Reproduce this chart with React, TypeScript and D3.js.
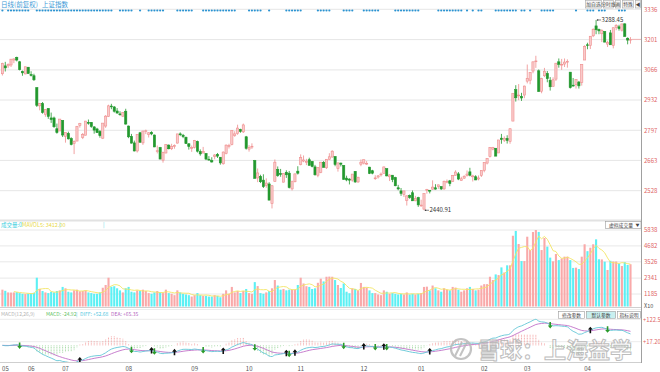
import React from 'react';
import * as d3 from 'd3';

// 上证指数 日线 2018-05-31 .. 2019-04-24, [open, high, low, close]
const candles: [number, number, number, number][] = [
  // 05/06
  [3049, 3098, 3041, 3095], [3084, 3102, 3059, 3075], [3084, 3095, 3074, 3091], [3088, 3114, 3079, 3114],
  [3110, 3117, 3096, 3115], [3122, 3125, 3104, 3110], [3102, 3106, 3064, 3067], [3059, 3063, 3040, 3053],
  [3048, 3080, 3047, 3080], [3078, 3079, 3049, 3050], [3045, 3060, 3037, 3044], [3040, 3049, 3017, 3022],
  [2987, 2988, 2901, 2908], [2906, 2919, 2886, 2916], [2916, 2923, 2871, 2876], [2868, 2892, 2857, 2890],
  [2894, 2895, 2848, 2859], [2852, 2876, 2830, 2845], [2852, 2858, 2808, 2813], [2804, 2827, 2782, 2787],
  [2794, 2847, 2794, 2847],
  // 07
  [2841, 2841, 2767, 2776], [2770, 2786, 2742, 2787], [2783, 2791, 2756, 2759], [2760, 2766, 2730, 2734],
  [2738, 2752, 2691, 2747], [2749, 2815, 2749, 2815], [2819, 2830, 2809, 2828], [2765, 2785, 2758, 2778],
  [2775, 2839, 2775, 2838], [2832, 2845, 2822, 2831], [2832, 2834, 2808, 2814], [2812, 2816, 2782, 2798],
  [2803, 2808, 2785, 2787], [2792, 2798, 2764, 2773], [2762, 2829, 2758, 2829], [2816, 2865, 2808, 2860],
  [2858, 2911, 2856, 2906], [2905, 2915, 2891, 2904], [2901, 2905, 2876, 2882], [2883, 2896, 2871, 2874],
  [2870, 2882, 2862, 2869], [2860, 2877, 2856, 2876],
  // 08
  [2882, 2893, 2822, 2825], [2816, 2818, 2762, 2768], [2770, 2781, 2738, 2740], [2741, 2751, 2703, 2705],
  [2705, 2779, 2698, 2779], [2786, 2790, 2741, 2744], [2741, 2794, 2732, 2794], [2794, 2800, 2780, 2795],
  [2778, 2788, 2765, 2786], [2788, 2793, 2775, 2781], [2776, 2778, 2722, 2723], [2703, 2729, 2694, 2706],
  [2720, 2723, 2668, 2669], [2664, 2702, 2653, 2698], [2696, 2734, 2694, 2734], [2731, 2734, 2712, 2715],
  [2715, 2737, 2709, 2725], [2724, 2734, 2715, 2729], [2740, 2781, 2738, 2781], [2781, 2788, 2771, 2778],
  [2775, 2781, 2762, 2769], [2766, 2769, 2736, 2738], [2737, 2739, 2711, 2725],
  // 09
  [2716, 2729, 2701, 2721], [2720, 2754, 2716, 2751], [2747, 2751, 2698, 2704], [2702, 2712, 2684, 2692],
  [2696, 2723, 2694, 2702], [2694, 2694, 2664, 2669], [2668, 2682, 2662, 2665], [2662, 2677, 2653, 2656],
  [2680, 2691, 2668, 2687], [2690, 2696, 2674, 2682], [2677, 2678, 2644, 2652], [2648, 2703, 2644, 2700],
  [2694, 2734, 2690, 2731], [2725, 2737, 2716, 2729], [2733, 2798, 2730, 2797], [2773, 2793, 2768, 2781],
  [2782, 2822, 2777, 2807], [2800, 2804, 2786, 2792], [2790, 2827, 2785, 2821],
  // 10
  [2768, 2772, 2711, 2717], [2713, 2731, 2702, 2721], [2724, 2739, 2714, 2726], [2662, 2665, 2583, 2583],
  [2585, 2627, 2566, 2607], [2592, 2599, 2562, 2568], [2575, 2601, 2540, 2546], [2552, 2583, 2541, 2562],
  [2558, 2566, 2486, 2486], [2471, 2553, 2449, 2550], [2569, 2667, 2569, 2655], [2623, 2636, 2590, 2595],
  [2604, 2625, 2590, 2603], [2566, 2605, 2565, 2604], [2610, 2619, 2585, 2599], [2606, 2616, 2538, 2542],
  [2536, 2573, 2529, 2568], [2568, 2604, 2565, 2603],
  // 11
  [2615, 2637, 2600, 2606], [2644, 2690, 2641, 2676], [2660, 2685, 2655, 2665], [2654, 2670, 2642, 2659],
  [2666, 2675, 2641, 2641], [2658, 2660, 2632, 2636], [2634, 2643, 2595, 2599], [2597, 2633, 2588, 2631],
  [2610, 2655, 2606, 2655], [2654, 2660, 2632, 2632], [2630, 2669, 2625, 2668], [2668, 2695, 2666, 2679],
  [2678, 2708, 2675, 2704], [2680, 2682, 2637, 2645], [2626, 2652, 2613, 2652], [2651, 2653, 2636, 2646],
  [2640, 2642, 2576, 2579], [2584, 2595, 2570, 2576], [2580, 2583, 2556, 2575], [2575, 2602, 2568, 2602],
  [2614, 2615, 2563, 2567], [2567, 2590, 2563, 2588],
  // 12
  [2646, 2667, 2637, 2655], [2651, 2666, 2645, 2666], [2647, 2660, 2643, 2650], [2633, 2634, 2602, 2605],
  [2617, 2621, 2601, 2606], [2583, 2597, 2576, 2585], [2589, 2598, 2582, 2594], [2600, 2609, 2591, 2602],
  [2605, 2635, 2605, 2634], [2626, 2627, 2592, 2594], [2590, 2601, 2571, 2598], [2597, 2597, 2566, 2577],
  [2586, 2590, 2548, 2550], [2541, 2554, 2530, 2536], [2527, 2540, 2505, 2516], [2512, 2527, 2500, 2527],
  [2485, 2507, 2462, 2505], [2506, 2511, 2492, 2498], [2519, 2529, 2482, 2483], [2483, 2505, 2481, 2494],
  // 01
  [2497, 2501, 2456, 2465], [2461, 2488, 2456, 2464], [2446, 2515, 2440.91, 2515], [2529, 2536, 2515, 2533],
  [2530, 2531, 2516, 2526], [2535, 2574, 2532, 2544], [2541, 2557, 2533, 2535], [2546, 2555, 2536, 2554],
  [2546, 2548, 2531, 2536], [2536, 2573, 2532, 2570], [2566, 2578, 2561, 2570], [2572, 2576, 2548, 2560],
  [2569, 2598, 2567, 2596], [2596, 2619, 2596, 2611], [2603, 2611, 2575, 2580], [2574, 2590, 2573, 2581],
  [2584, 2597, 2580, 2592], [2595, 2618, 2591, 2602], [2612, 2630, 2592, 2597], [2590, 2599, 2569, 2594],
  [2590, 2597, 2575, 2576], [2580, 2596, 2574, 2585],
  // 02
  [2596, 2619, 2589, 2618], [2619, 2654, 2610, 2654], [2651, 2673, 2645, 2672], [2680, 2722, 2676, 2721],
  [2713, 2723, 2708, 2720], [2717, 2718, 2682, 2682], [2696, 2754, 2696, 2754], [2762, 2781, 2737, 2756],
  [2753, 2770, 2745, 2761], [2761, 2775, 2738, 2752], [2747, 2805, 2737, 2804], [2838, 2961, 2838, 2961],
  [2978, 2998, 2925, 2942], [2951, 3003, 2931, 2954], [2948, 2964, 2928, 2941],
  // 03
  [2954, 2996, 2940, 2994], [3016, 3090, 3006, 3028], [3020, 3055, 3002, 3054], [3061, 3103, 3051, 3102],
  [3104, 3129, 3075, 3106], [3062, 3068, 2969, 2970], [2971, 3031, 2962, 3027], [3040, 3075, 3034, 3060],
  [3050, 3061, 3011, 3027], [3020, 3034, 2974, 2991], [2993, 3033, 2993, 3022], [3025, 3096, 3017, 3096],
  [3102, 3117, 3076, 3091], [3088, 3115, 3066, 3091], [3092, 3117, 3079, 3101], [3101, 3113, 3076, 3104],
  [3056, 3056, 2983, 2987], [2998, 3030, 2991, 2997], [3000, 3023, 2983, 3023], [3012, 3017, 2983, 2995],
  [3010, 3091, 2996, 3091],
  // 04
  [3110, 3176, 3110, 3170], [3178, 3187, 3158, 3177], [3174, 3217, 3159, 3216], [3218, 3251, 3212, 3247],
  [3262, 3288.45, 3225, 3245], [3246, 3250, 3225, 3240], [3227, 3247, 3190, 3242], [3237, 3238, 3189, 3190],
  [3181, 3196, 3168, 3189], [3231, 3244, 3178, 3178], [3174, 3254, 3162, 3254], [3255, 3270, 3243, 3263],
  [3258, 3267, 3241, 3250], [3243, 3271, 3237, 3271], [3271, 3274, 3215, 3215], [3207, 3211, 3180, 3199],
  [3199, 3212, 3183, 3202],
];

// 成交量 (X10)
const volumes = [
  1500, 1420, 1300, 1290, 1300, 1320, 1250, 1200, 1180, 1210, 1230, 1280, 2370, 1560, 1400, 1300, 1250, 1350, 1300, 1400, 1450,
  1700, 1600, 1350, 1300, 1450, 1500, 1380, 1400, 1450, 1300, 1250, 1200, 1200, 1300, 1640, 1840, 2370, 1715, 1750, 1600, 1450, 1300,
  1600, 1700, 1350, 1300, 1450, 1400, 1500, 1400, 1250, 1200, 1300, 1400, 1300, 1250, 1500, 1250, 1200, 1100, 1450, 1300, 1200, 1150, 1100,
  1000, 1100, 1250, 1100, 1050, 1050, 1000, 1000, 1100, 1050, 950, 1200, 1450, 1200, 1700, 1300, 1400, 1250, 1400,
  1550, 1250, 1200, 2050, 1760, 1250, 1200, 1300, 1400, 1600, 2200, 1800, 1500, 1550, 1450, 1500, 1500, 1500,
  1840, 2370, 1950, 1750, 1700, 1550, 1600, 2000, 2300, 2100, 2440, 2450, 2440, 2200, 1840, 1620, 1950, 1350, 1240, 1600, 1550, 1450,
  1990, 1700, 1650, 1450, 1250, 1250, 1150, 1100, 1450, 1350, 1200, 1250, 1200, 1150, 1200, 1150, 1300, 1150, 1200, 1150,
  1200, 1250, 1700, 1720, 1450, 1800, 1600, 1450, 1350, 1600, 1500, 1450, 1700, 1650, 1500, 1350, 1450, 1600, 1700, 1550, 1450, 1500,
  1800, 1900, 1900, 2440, 2200, 2610, 2560, 3120, 2750, 3270, 3270, 5420, 5770, 4820, 3580,
  3580, 5350, 4380, 5690, 5838, 5700, 4380, 5260, 4630, 3830, 3560, 4090, 3650, 3770, 3900, 3900, 3650, 3080, 3100, 3000, 3900,
  4800, 4300, 4550, 4800, 5160, 3710, 3700, 3535, 2930, 3600, 3550, 3550, 3400, 3220, 3500, 3300, 3350,
];

const monthTicks: [string, number][] = [
  ['05', 0], ['06', 9], ['07', 21], ['08', 43], ['09', 66], ['10', 85],
  ['11', 103], ['12', 125], ['01', 145], ['02', 167], ['03', 182], ['04', 203],
];
const priceTicks = [3336, 3201, 3066, 2932, 2797, 2663, 2528];
const volTicks = [5838, 4682, 3526, 2341, 1185];
const macdTicks = [122.5, 17.2];
const macdTickLabels = ['+122.5', '+17.20'];

// 事件提示点
const eventIdx = [
  0, 2, 3, 4, 5, 6, 7, 8, 9, 12, 13, 14, 15, 16, 17, 18, 19, 20, 21, 22, 23, 24, 25, 26, 27, 28, 29, 30, 31,
  32, 33, 34, 35, 36, 37, 38, 41, 42, 43, 44, 45, 48, 51, 52, 53, 54, 55, 56, 61, 62, 63, 64, 65, 66,
  70, 71, 72, 73, 74, 75, 76, 77, 78, 79, 80, 81, 86, 87, 88, 89, 90, 93, 99, 100, 101, 102, 103, 104,
  110, 111, 112, 113, 114, 119, 120, 121, 122, 126, 127, 128, 129, 130, 131, 137, 138, 139, 140, 141, 142,
  143, 144, 145, 152, 153, 154, 155, 156, 157, 158, 159, 160, 162, 164, 166, 167, 172, 173, 174, 175, 176,
  177, 178, 179, 181, 182, 184, 188, 189, 190, 191, 192, 200, 204, 205, 206, 208, 209, 210, 215, 216, 217,
];

const legendMacd = { name: 'MACD(12,26,9)', macd: 'MACD: -24.92', diff: 'DIFF: +52.68', dea: 'DEA: +65.35' };

const FONT = "'Noto Sans CJK SC', 'DejaVu Sans', sans-serif";
const AXIS_X = 641.5;
const UP = '#ef8d8d';
const UP_FILL = '#f9caca';
const DOWN = '#22982e';

function ema(values: number[], n: number) {
  const k = 2 / (n + 1);
  const out: number[] = [];
  values.forEach((v, i) => out.push(i === 0 ? v : out[i - 1] + k * (v - out[i - 1])));
  return out;
}

export default function App() {
  const N = candles.length;
  const x = d3.scaleLinear().domain([0, N - 1]).range([2.4, 630.5]);
  const yP = d3.scaleLinear().domain([2528, 3336]).range([190.7, 9.3]);
  const yV = d3.scaleLinear().domain([1185, 5838]).range([294, 230]);
  const yM = d3.scaleLinear().domain([17.2, 122.5]).range([341.7, 319.3]);
  const volBase = 306.5;

  const closes = candles.map(c => c[3]);
  const e12 = ema(closes, 12);
  const e26 = ema(closes, 26);
  const diff = closes.map((_, i) => e12[i] - e26[i]);
  const dea = ema(diff, 9);
  const hist = diff.map((d, i) => 2 * (d - dea[i]));

  const mavol = volumes.map((_, i) => (i < 4 ? null : d3.mean(volumes.slice(i - 4, i + 1))!));
  const mavolLine = d3.line<number | null>()
    .defined(d => d !== null)
    .x((_, i) => x(i))
    .y(d => yV(d as number));

  const lineM = d3.line<number>().x((_, i) => x(i)).y(d => yM(d)).curve(d3.curveMonotoneX);

  const crosses: { i: number; up: boolean }[] = [];
  for (let i = 5; i < N; i++) {
    if (diff[i - 1] <= dea[i - 1] && diff[i] > dea[i]) crosses.push({ i, up: true });
    if (diff[i - 1] >= dea[i - 1] && diff[i] < dea[i]) crosses.push({ i, up: false });
  }

  const iMax = d3.maxIndex(candles, c => c[1]);
  const iMin = d3.minIndex(candles, c => c[2]);
  const last = candles[N - 1];

  const topButtons: [string, number, number][] = [
    ['加自选', 585, 602], ['分时线', 603, 614], ['画', 615, 621], ['特殊', 622, 634], ['◀', 635, 641],
  ];
  const macdButtons: [string, number, number, boolean][] = [
    ['修改参数', 558, 585, false], ['默认参数', 586, 616, true], ['指标说明', 617, 641, false],
  ];

  return (
    <svg width={660} height={372} fontFamily={FONT}
      style={{ position: 'absolute', left: 0, top: 0, background: '#fff' }}>
      <defs>
        <clipPath id="macdClip"><rect x={0} y={316} width={AXIS_X} height={47} /></clipPath>
      </defs>

      {/* title */}
      <text x={1} y={6.5} fontSize={6.5} fill="#3d9ad6">日线(前复权)</text>
      <text x={42} y={6.5} fontSize={6.5} fill="#3d9ad6">上证指数</text>

      {/* price grid */}
      {priceTicks.map(t => (
        <g key={t}>
          <line x1={0} x2={AXIS_X} y1={yP(t)} y2={yP(t)} stroke="#e6e6e6" strokeWidth={1} />
          <text x={644} y={yP(t) + 2.2} fontSize={6} fill="#e06565">{t}</text>
        </g>
      ))}

      {/* events */}
      {eventIdx.map(i => (
        <circle key={i} cx={x(i)} cy={10.5} r={1.1} fill="#2b93d1" />
      ))}

      {/* candles */}
      {candles.map(([o, h, l, c], i) => {
        const up = c >= o;
        const col = up ? UP : DOWN;
        const top = yP(Math.max(o, c));
        const hgt = Math.max(0.8, Math.abs(yP(o) - yP(c)));
        return (
          <g key={i}>
            <line x1={x(i)} x2={x(i)} y1={yP(h)} y2={yP(l)} stroke={col} strokeWidth={0.8} />
            <rect x={x(i) - 1.1} y={top} width={2.2} height={hgt} fill={up ? UP_FILL : DOWN} stroke={col} strokeWidth={0.6} />
          </g>
        );
      })}

      {/* high / low labels */}
      <g fontSize={6} fill="#333">
        <circle cx={x(iMax) + 1.5} cy={yP(candles[iMax][1])} r={0.8} fill="#333" />
        <line x1={x(iMax) + 1.5} x2={x(iMax) + 5} y1={yP(candles[iMax][1])} y2={yP(candles[iMax][1])} stroke="#333" strokeWidth={0.6} />
        <text x={x(iMax) + 5.5} y={yP(candles[iMax][1]) + 2}>{candles[iMax][1].toFixed(2)}</text>
        <circle cx={x(iMin) + 1.5} cy={yP(candles[iMin][2])} r={0.8} fill="#333" />
        <line x1={x(iMin) + 1.5} x2={x(iMin) + 5} y1={yP(candles[iMin][2])} y2={yP(candles[iMin][2])} stroke="#333" strokeWidth={0.6} />
        <text x={x(iMin) + 5.5} y={yP(candles[iMin][2]) + 2}>{candles[iMin][2].toFixed(2)}</text>
      </g>
      <line x1={x(N - 1) + 1.5} x2={AXIS_X} y1={yP(last[3])} y2={yP(last[3])} stroke="#f3a5a5" strokeWidth={0.8} />

      {/* top buttons */}
      {topButtons.map(([t, a, b]) => (
        <g key={t}>
          <rect x={a + 0.5} y={0.5} width={b - a - 1} height={7.5} fill="#f5f5f5" stroke="#a8a8a8" strokeWidth={0.6} />
          <text x={(a + b) / 2} y={6} fontSize={4.8} textAnchor="middle" fill="#444">{t}</text>
        </g>
      ))}

      {/* separator main / volume */}
      <rect x={0} y={219.5} width={AXIS_X} height={2} fill="#e2e2e2" />

      {/* volume legend */}
      <text x={1} y={226.5} fontSize={5.5} fill="#3fd0e0">成交量:0</text>
      <text x={22} y={226.5} fontSize={5.5} fill="#e9d94a">MAVOL5: 3412.00</text>
      <text x={59} y={226.5} fontSize={5.5} fill="#3fd0e0">|</text>
      <text x={103} y={226.5} fontSize={5.5} fill="#3fd0e0">|</text>
      <rect x={605.5} y={221.5} width={35.5} height={7} fill="#fff" stroke="#9a9a9a" strokeWidth={0.6} />
      <text x={621} y={226.8} fontSize={4.8} textAnchor="middle" fill="#444">虚拟成交量</text>
      <text x={637.5} y={226.8} fontSize={4} textAnchor="middle" fill="#444">▼</text>

      {/* volume grid */}
      {volTicks.map(t => (
        <g key={t}>
          <line x1={0} x2={AXIS_X} y1={yV(t)} y2={yV(t)} stroke="#e8e8e8" strokeWidth={1} />
          <text x={644} y={yV(t) + 2.2} fontSize={6} fill="#e06565">{t}</text>
        </g>
      ))}
      <text x={644} y={308} fontSize={5.5} fill="#555">X10</text>

      {/* volume bars */}
      {volumes.map((v, i) => {
        const up = candles[i][3] >= candles[i][0];
        return (
          <rect key={i} x={x(i) - 1.05} y={yV(v)} width={2.1} height={volBase - yV(v)}
            fill={up ? '#f9a9a9' : '#5cf0f4'} />
        );
      })}
      <path d={mavolLine(mavol) ?? ''} fill="none" stroke="#f3e565" strokeWidth={0.9} />

      {/* separator volume / macd */}
      <line x1={0} x2={AXIS_X} y1={307.5} y2={307.5} stroke="#cfcfcf" strokeWidth={1} />
      <line x1={0} x2={AXIS_X} y1={309.5} y2={309.5} stroke="#ececec" strokeWidth={1} />

      {/* macd legend */}
      <g fontSize={5}>
        <text x={1} y={315.5} fill="#b4b4b4">{legendMacd.name}</text>
        <text x={46} y={315.5} fill="#5fbf5f">{legendMacd.macd}</text>
        <text x={76} y={315.5} fill="#4fc6e0">|</text>
        <text x={80} y={315.5} fill="#4fc6e0">{legendMacd.diff}</text>
        <text x={111} y={315.5} fill="#b566c0">{legendMacd.dea}</text>
      </g>
      {macdButtons.map(([t, a, b, on]) => (
        <g key={t}>
          <rect x={a + 0.5} y={311.5} width={b - a - 1} height={7} fill={on ? '#c9efef' : '#fff'} stroke="#9a9a9a" strokeWidth={0.6} />
          <text x={(a + b) / 2} y={316.8} fontSize={4.8} textAnchor="middle" fill="#444">{t}</text>
        </g>
      ))}

      {/* macd grid */}
      {macdTicks.map((t, k) => (
        <g key={t}>
          <line x1={0} x2={AXIS_X} y1={yM(t)} y2={yM(t)} stroke="#ececec" strokeWidth={1} />
          <text x={643} y={yM(t) + 2.2} fontSize={5.8} fill="#e06565">{macdTickLabels[k]}</text>
        </g>
      ))}

      <g clipPath="url(#macdClip)">
        {hist.map((m, i) => (
          <line key={i} x1={x(i)} x2={x(i)} y1={yM(0)} y2={yM(m)}
            stroke={m >= 0 ? '#f3a3a3' : '#9fd69f'} strokeWidth={0.9} strokeDasharray="1,0.6" />
        ))}
        <path d={lineM(dea) ?? ''} fill="none" stroke="#c170c8" strokeWidth={0.9} />
        <path d={lineM(diff) ?? ''} fill="none" stroke="#62c6d6" strokeWidth={0.9} />
        {crosses.map(({ i, up }) => {
          const cx = x(i);
          const cy = yM(diff[i]);
          const d = up
            ? `M${cx},${cy - 3.5} L${cx + 2.4},${cy - 0.6} L${cx + 0.8},${cy - 0.6} L${cx + 0.8},${cy + 3} L${cx - 0.8},${cy + 3} L${cx - 0.8},${cy - 0.6} L${cx - 2.4},${cy - 0.6} Z`
            : `M${cx},${cy + 3.5} L${cx + 2.4},${cy + 0.6} L${cx + 0.8},${cy + 0.6} L${cx + 0.8},${cy - 3} L${cx - 0.8},${cy - 3} L${cx - 0.8},${cy + 0.6} L${cx - 2.4},${cy + 0.6} Z`;
          return <path key={i} d={d} fill={up ? '#111' : '#2a9a2a'} />;
        })}
      </g>

      {/* watermark (behind axis labels) */}
      <g opacity={0.85}>
        <circle cx={461} cy={349} r={10} fill="none" stroke="#b9b9b9" strokeWidth={2.2} />
        <path d="M455,356 L462,342 M460,356 L467,342" stroke="#b9b9b9" strokeWidth={2} fill="none" />
        <text x={478} y={357.5} fontSize={22} fontWeight={700} fill="#ffffff" fillOpacity={0.6}
          stroke="#b3b3b3" strokeWidth={1}>雪球：上海益学</text>
      </g>

      {/* bottom axis */}
      <line x1={0} x2={AXIS_X} y1={362.5} y2={362.5} stroke="#cfcfcf" strokeWidth={1} />
      {monthTicks.map(([t, i]) => (
        <text key={t} x={Math.max(4, x(i) + 3)} y={370.5} fontSize={6} textAnchor="middle" fill="#555">{t}</text>
      ))}

      {/* right axis */}
      <line x1={AXIS_X} x2={AXIS_X} y1={0} y2={363} stroke="#a0a0a0" strokeWidth={1} />
    </svg>
  );
}
